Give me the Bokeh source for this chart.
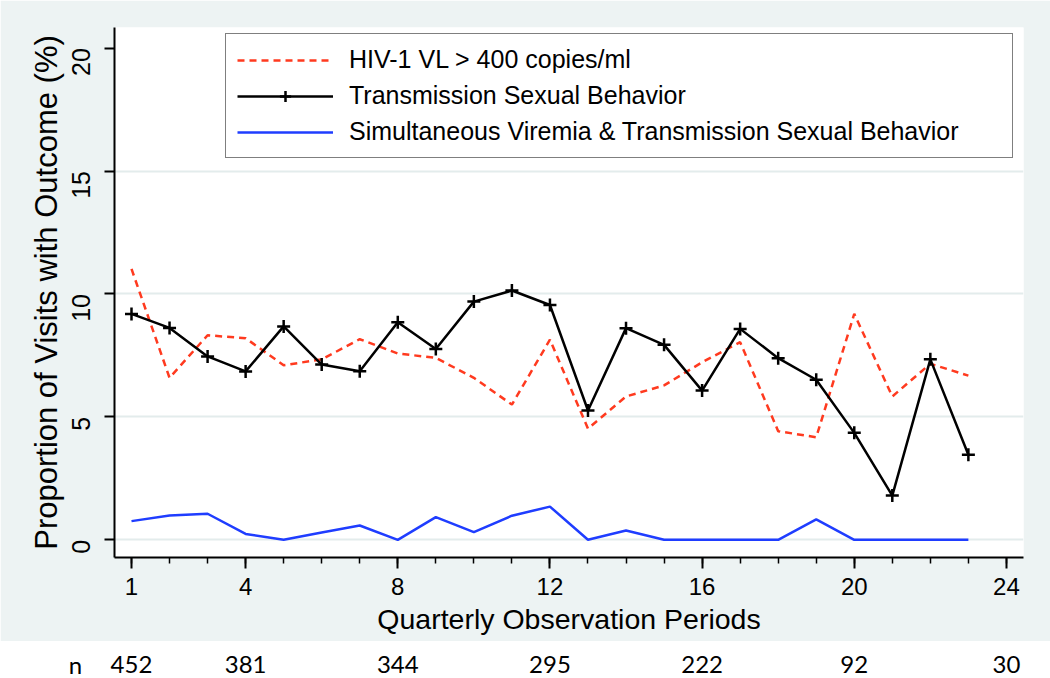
import math
from bokeh.plotting import figure
from bokeh.models import Range1d, FixedTicker, Legend, LegendItem, Label
from bokeh.embed import file_html
from bokeh.resources import INLINE
from bokeh.core.properties import value

# ---------------- data ----------------
periods = list(range(1, 24))
viremia = [11.02, 6.59, 8.32, 8.20, 7.10, 7.34, 8.16, 7.58, 7.40, 6.59, 5.50, 8.14,
           4.52, 5.83, 6.28, 7.22, 8.04, 4.42, 4.17, 9.19, 5.83, 7.16, 6.68]
behavior = [9.19, 8.62, 7.46, 6.85, 8.68, 7.13, 6.86, 8.85, 7.76, 9.69, 10.14, 9.55,
            5.26, 8.61, 7.93, 6.07, 8.58, 7.39, 6.51, 4.35, 1.80, 7.34, 3.46]
simultaneous = [0.76, 0.99, 1.06, 0.24, 0.0, 0.30, 0.58, 0.0, 0.92, 0.31, 0.98, 1.35,
                0.0, 0.38, 0.0, 0.0, 0.0, 0.0, 0.83, 0.0, 0.0, 0.0, 0.0]

x_major_ticks = [1, 4, 8, 12, 16, 20, 24]
x_minor_ticks = list(range(1, 25))
y_ticks = [0, 5, 10, 15, 20]
grid_ticks = [0, 5, 10, 15]
n_positions = [1, 4, 8, 12, 16, 20, 24]
n_values = ["452", "381", "344", "295", "222", "92", "30"]
n_title = "n"

labels = ["HIV-1 VL > 400 copies/ml",
          "Transmission Sexual Behavior",
          "Simultaneous Viremia & Transmission Sexual Behavior"]

# ---------------- style ----------------
BG = "#EDF3F3"
GRID = "#E3ECEC"
RED = "#FF3A1F"
BLUE = "#1F3DFF"
FONT = "Liberation Sans"

FRAME_W, FRAME_H = 909, 530
LEFT, RIGHT, TOP, BOTTOM = 114, 27, 27, 84
X0, X1 = 0.553, 24.449
Y0, Y1 = -0.72, 20.84

p = figure(frame_width=FRAME_W, frame_height=FRAME_H, title=None,
           x_range=Range1d(X0, X1), y_range=Range1d(Y0, Y1),
           output_backend="svg", toolbar_location=None,
           min_border_left=LEFT, min_border_right=RIGHT,
           min_border_top=TOP, min_border_bottom=BOTTOM,
           background_fill_color="white", border_fill_color=BG,
           outline_line_color=None)

# axes
xa = p.xaxis[0]
xa.ticker = FixedTicker(ticks=x_major_ticks, minor_ticks=x_minor_ticks)
xa.axis_label = "Quarterly Observation Periods"
ya = p.yaxis[0]
ya.ticker = FixedTicker(ticks=y_ticks, minor_ticks=[])
ya.axis_label = "Proportion of Visits with Outcome (%)"
ya.major_label_orientation = math.pi / 2

for ax in (xa, ya):
    ax.axis_line_color = "black"
    ax.axis_line_width = 2
    ax.major_tick_line_color = "black"
    ax.major_tick_line_width = 2
    ax.major_tick_in = 0
    ax.minor_tick_in = 0
    ax.major_label_text_font = FONT
    ax.major_label_text_color = "black"
    ax.axis_label_text_font = FONT
    ax.axis_label_text_font_style = "normal"
    ax.axis_label_text_color = "black"

xa.major_tick_out = 11
xa.minor_tick_out = 6
xa.minor_tick_line_color = "black"
xa.minor_tick_line_width = 1.5
xa.major_label_text_font_size = "24px"
xa.major_label_standoff = 9
xa.axis_label_text_font_size = "28.5px"
xa.axis_label_standoff = 5

ya.major_tick_out = 10
ya.minor_tick_out = 0
ya.major_label_text_font_size = "25px"
ya.major_label_standoff = 23
ya.axis_label_text_font_size = "31px"
ya.axis_label_standoff = -3

p.xgrid.visible = False
p.ygrid.ticker = FixedTicker(ticks=grid_ticks, minor_ticks=[])
p.ygrid.grid_line_color = GRID
p.ygrid.grid_line_width = 2

# series
r_red = p.line(periods, viremia, line_color=RED, line_width=2.5, line_dash="7 5")
r_blk = p.line(periods, behavior, line_color="black", line_width=2.5)
r_pts = p.scatter(periods, behavior, marker="cross", size=13,
                  line_color="black", line_width=2.5)
r_blu = p.line(periods, simultaneous, line_color=BLUE, line_width=2.5)

legend = Legend(items=[LegendItem(label=labels[0], renderers=[r_red]),
                       LegendItem(label=labels[1], renderers=[r_blk, r_pts]),
                       LegendItem(label=labels[2], renderers=[r_blu])],
                location=(111, 399), orientation="vertical",
                glyph_width=96, glyph_height=28,
                label_width=652, label_height=28, label_standoff=16,
                padding=11, spacing=7, margin=0,
                border_line_color="black", border_line_width=1.5,
                background_fill_color="white", background_fill_alpha=1.0,
                label_text_font=FONT, label_text_font_size="25px",
                label_text_color="black")
p.add_layout(legend, "center")

# ---------------- n row (separate root, frame = whole canvas) ----------------
W_TOTAL = LEFT + FRAME_W + RIGHT
N_H = 678 - (TOP + FRAME_H + BOTTOM)
scale = (X1 - X0) / FRAME_W
BASE = 14
p2 = figure(width=W_TOTAL, height=N_H, title=None,
            x_range=Range1d(X0 - LEFT * scale, X1 + RIGHT * scale),
            y_range=Range1d(0, N_H),
            x_axis_location=None, y_axis_location=None,
            output_backend="svg", toolbar_location=None, min_border=0,
            outline_line_color=None, background_fill_color="white",
            border_fill_color="white")
p2.grid.visible = False
p2.text(x=n_positions, y=BASE, text=n_values, text_font=value("Lato"),
        text_font_size="24px", text_align="center", text_baseline="alphabetic",
        text_color="black")
p2.add_layout(Label(x=75, y=BASE, x_units="screen", y_units="screen", text=n_title,
                    text_font="Lato", text_font_size="24px", text_align="center",
                    text_baseline="alphabetic", text_color="black"))

open("out.html", "w").write(file_html([p, p2], INLINE))
